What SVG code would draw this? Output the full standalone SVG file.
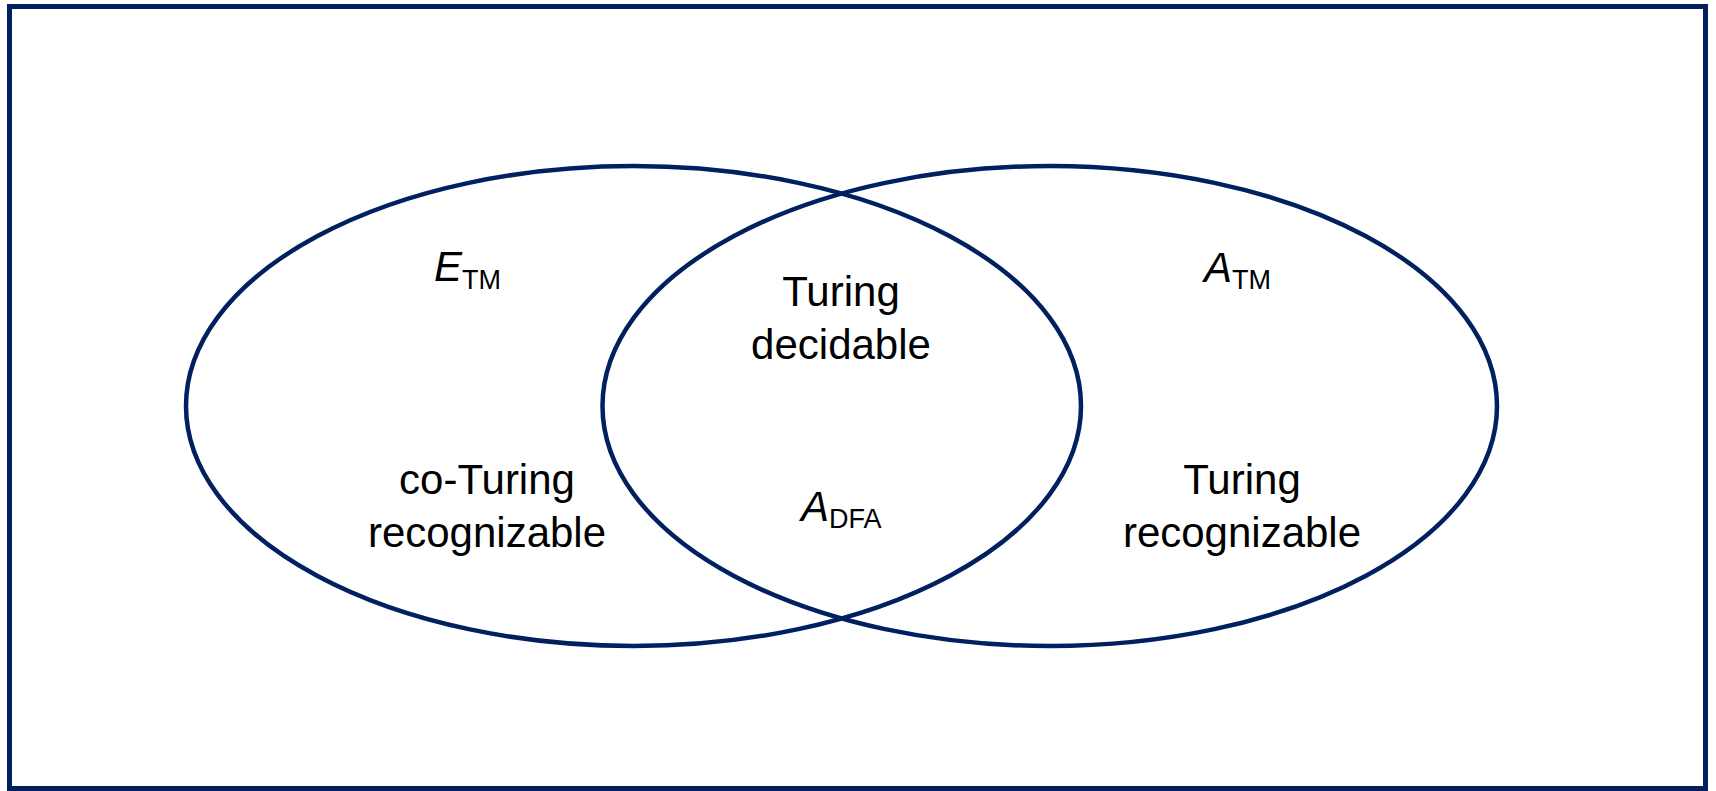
<svg xmlns="http://www.w3.org/2000/svg" width="1716" height="791" viewBox="0 0 1716 791">
<style>
.frame{fill:#ffffff;stroke:#002060;stroke-width:5}
.set{fill:none;stroke:#002060;stroke-width:4.5}
.lbl{font-family:"Liberation Sans",Arial,sans-serif;font-size:42px;fill:#000;text-anchor:middle}
.var{font-family:"Liberation Sans",Arial,sans-serif;font-size:42px;fill:#000}
.it{font-style:italic}
.sub{font-size:27px}
</style>
<rect class="frame" x="9.5" y="6.5" width="1696" height="782"/>
<g id="co-recognizable">
<ellipse class="set" cx="633.5" cy="406" rx="447.5" ry="240"/>
</g>
<g id="recognizable">
<ellipse class="set" cx="1049.75" cy="406" rx="447.25" ry="240"/>
</g>
<g id="connectors"></g>
<g id="label-etm">
<text class="var" x="434" y="281"><tspan class="it">E</tspan><tspan class="sub" dy="8">TM</tspan></text>
</g>
<g id="label-atm">
<text class="var" x="1204" y="282"><tspan class="it">A</tspan><tspan class="sub" dy="7">TM</tspan></text>
</g>
<g id="label-decidable">
<text class="lbl" x="841" y="306">Turing</text>
<text class="lbl" x="841" y="359">decidable</text>
</g>
<g id="label-adfa">
<text class="var" x="801" y="521"><tspan class="it">A</tspan><tspan class="sub" dy="7">DFA</tspan></text>
</g>
<g id="label-co">
<text class="lbl" x="487" y="494">co-Turing</text>
<text class="lbl" x="487" y="547">recognizable</text>
</g>
<g id="label-rec">
<text class="lbl" x="1242" y="494">Turing</text>
<text class="lbl" x="1242" y="547">recognizable</text>
</g>
</svg>
